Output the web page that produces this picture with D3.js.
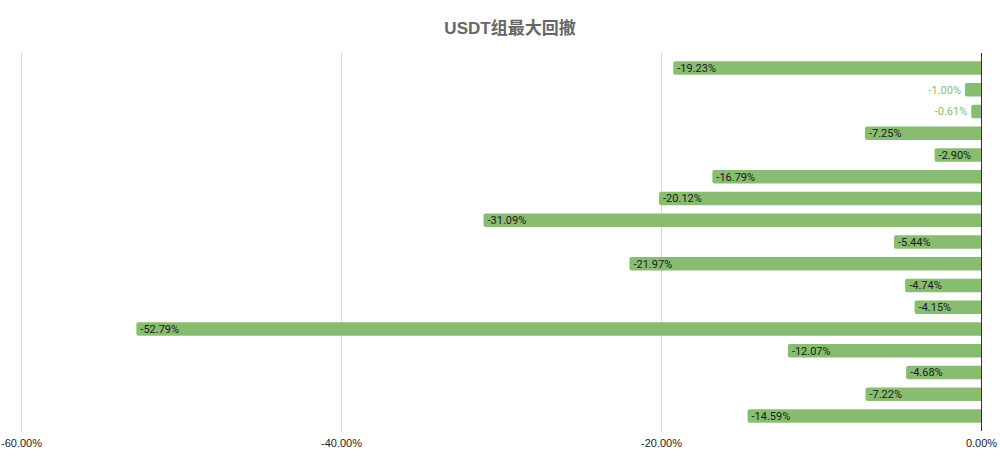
<!DOCTYPE html>
<html>
<head>
<meta charset="utf-8">
<script src="https://cdn.jsdelivr.net/npm/d3@7"></script>
<style>
  body { margin: 0; background: white; }
  .gridline { stroke: #d9d9d9; stroke-width: 1; }
  .xAxis text { font-family: "Liberation Sans", Arial, sans-serif; font-size: 11px; fill: #222; }
</style>
</head>
<body>
<div id="rysDrawdown"></div>
<script>
// categories have no visible labels in the chart, only order
var kategorie = ["1", "2", "3", "4", "5", "6", "7", "8", "9", "10", "11", "12", "13", "14", "15", "16", "17"];
var wartosci = [-19.23, -1.00, -0.61, -7.25, -2.90, -16.79, -20.12, -31.09, -5.44, -21.97, -4.74, -4.15, -52.79, -12.07, -4.68, -7.22, -14.59];
var xTicks = [-60, -40, -20, 0];
var tytul = "USDT组最大回撤";

var dane = kategorie.map(function (k, i) { return { nazwa: k, wartosc: wartosci[i] }; });

var width = 1000, height = 462;

var svg = d3.select("#rysDrawdown")
  .append("svg")
  .attr("width", width)
  .attr("height", height)
  .style("background", "white");

svg.append("text")
  .attr("x", 510)
  .attr("y", 34)
  .attr("text-anchor", "middle")
  .style("font-family", "'Liberation Sans', Arial, 'Noto Sans CJK SC', sans-serif")
  .style("font-weight", "bold")
  .style("font-size", "17px")
  .style("fill", "#666")
  .text(tytul);

var xscale = d3.scaleLinear()
  .domain([-60, 0])
  .range([21, 981]);

var yscale = d3.scaleBand()
  .domain(kategorie)
  .range([53, 431])
  .padding(0.38);

var fmt = d => d.toFixed(2) + "%";
var fits = d => (xscale(0) - xscale(d.wartosc)) > 30;

// vertical gridlines
svg.append("g")
  .selectAll("line")
  .data(xTicks.filter(d => d !== 0))
  .enter().append("line")
  .attr("class", "gridline")
  .attr("x1", d => xscale(d) + 0.5)
  .attr("x2", d => xscale(d) + 0.5)
  .attr("y1", 53)
  .attr("y2", 431);

svg.append("g")
  .selectAll("path")
  .data(dane)
  .enter().append("path")
  .attr("fill", "#88bd71")
  .attr("d", function (d) {
    var x0 = xscale(d.wartosc), x1 = xscale(0), y0 = yscale(d.nazwa), h = yscale.bandwidth();
    var r = Math.min(2, (x1 - x0) / 2);
    return "M" + x1 + "," + y0 + "H" + (x0 + r) + "Q" + x0 + "," + y0 + " " + x0 + "," + (y0 + r)
      + "V" + (y0 + h - r) + "Q" + x0 + "," + (y0 + h) + " " + (x0 + r) + "," + (y0 + h) + "H" + x1 + "Z";
  });

// zero line
svg.append("line")
  .attr("x1", xscale(0) + 0.5)
  .attr("x2", xscale(0) + 0.5)
  .attr("y1", 53)
  .attr("y2", 431)
  .attr("stroke", "#333")
  .attr("stroke-width", 1);

// value labels: inside bar when it fits, otherwise to the left in green
svg.append("g")
  .selectAll("text")
  .data(dane)
  .enter().append("text")
  .attr("x", d => fits(d) ? xscale(d.wartosc) + 4 : xscale(d.wartosc) - 4)
  .attr("y", d => yscale(d.nazwa) + yscale.bandwidth() / 2)
  .attr("dy", "0.36em")
  .attr("text-anchor", d => fits(d) ? "start" : "end")
  .style("font-family", "Roboto, sans-serif")
  .style("font-size", "11px")
  .style("fill", d => fits(d) ? "#1a1a1a" : "#88bd71")
  .text(d => fmt(d.wartosc));

var xAxis = svg.append("g")
  .attr("class", "xAxis")
  .attr("transform", "translate(0,431)");

xAxis.call(d3.axisBottom(xscale).tickValues(xTicks).tickSize(0).tickPadding(8)
    .tickFormat(fmt))
  .call(g => g.select(".domain").remove());
</script>
</body>
</html>
